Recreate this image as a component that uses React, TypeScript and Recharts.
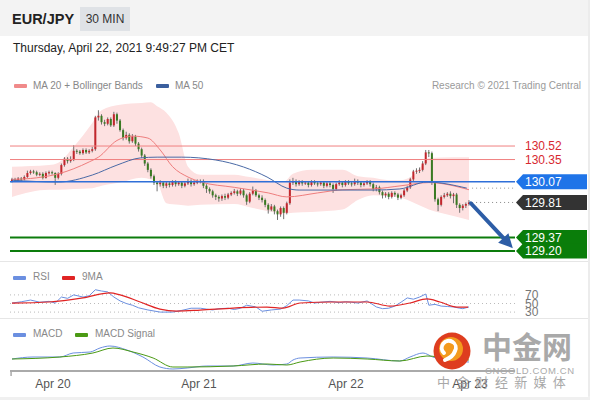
import React from 'react';
import { ComposedChart, Bar, Line, Area, XAxis, YAxis, ReferenceLine } from 'recharts';

const FONT = '"Liberation Sans", Arial, Helvetica, sans-serif';
const CJK = '"Noto Sans CJK SC", "Noto Sans", sans-serif';

// ---- price data (30 min candles) ----
const firstOpen = 130.08;
const closes = [
  130.10, 130.09, 130.11, 130.10, 130.13, 130.18, 130.20, 130.19, 130.16, 130.17,
  130.12, 130.18, 130.19, 130.18, 130.12, 130.17, 130.28, 130.36, 130.33, 130.35,
  130.46, 130.45, 130.43, 130.47, 130.44, 130.46, 130.48, 130.88, 130.90, 130.82,
  130.80, 130.86, 130.78, 130.92, 130.84, 130.72, 130.62, 130.66, 130.58, 130.64,
  130.55, 130.48, 130.40, 130.30, 130.22, 130.14, 130.06, 130.04, 130.06, 130.02,
  130.05, 130.03, 130.07, 130.04, 130.06, 130.02, 130.05, 130.08, 130.04, 130.06,
  130.07, 130.08, 130.02, 129.98, 129.95, 129.90, 129.88, 129.86, 129.89, 129.87,
  129.91, 129.93, 129.95, 129.92, 129.96, 129.90, 129.82, 129.92, 129.96, 129.90,
  129.87, 129.84, 129.78, 129.72, 129.76, 129.70, 129.66, 129.74, 129.68, 129.80,
  130.06, 130.08, 130.04, 130.07, 130.05, 130.06, 130.03, 130.07, 130.05, 130.04,
  130.06, 130.02, 130.05, 130.03, 129.98, 130.04, 130.06, 130.03, 130.07, 130.05,
  130.04, 130.08, 130.06, 130.03, 130.05, 130.07, 130.04, 129.98, 130.00, 129.94,
  129.90, 129.92, 129.88, 129.93, 129.91, 129.87, 129.90, 129.96, 130.00, 130.10,
  130.20, 130.21, 130.22, 130.30, 130.44, 130.43, 130.06, 129.85, 129.78, 129.88,
  129.90, 129.92, 129.89, 129.91, 129.78, 129.74, 129.77, 129.79, 129.81,
];
const highs = [
  130.12, 130.12, 130.13, 130.13, 130.15, 130.21, 130.22, 130.22, 130.21, 130.19,
  130.19, 130.20, 130.21, 130.21, 130.19, 130.19, 130.30, 130.38, 130.38, 130.39,
  130.53, 130.48, 130.47, 130.49, 130.49, 130.48, 130.51, 130.90, 130.97, 130.92,
  130.85, 130.88, 130.88, 130.95, 130.94, 130.86, 130.74, 130.70, 130.68, 130.67,
  130.66, 130.57, 130.50, 130.42, 130.32, 130.24, 130.16, 130.08, 130.09, 130.08,
  130.07, 130.07, 130.09, 130.09, 130.08, 130.08, 130.07, 130.11, 130.10, 130.09,
  130.10, 130.10, 130.10, 130.04, 130.00, 129.97, 129.92, 129.90, 129.91, 129.92,
  129.93, 129.95, 129.98, 129.97, 129.99, 129.98, 129.92, 129.94, 130.01, 129.98,
  129.92, 129.90, 129.86, 129.80, 129.79, 129.78, 129.72, 129.76, 129.76, 129.82,
  130.10, 130.12, 130.10, 130.09, 130.09, 130.08, 130.08, 130.09, 130.09, 130.07,
  130.08, 130.08, 130.07, 130.07, 130.05, 130.06, 130.09, 130.08, 130.09, 130.09,
  130.07, 130.11, 130.10, 130.08, 130.07, 130.09, 130.09, 130.06, 130.03, 130.02,
  129.96, 129.94, 129.94, 129.95, 129.95, 129.93, 129.92, 129.98, 130.02, 130.12,
  130.22, 130.24, 130.25, 130.33, 130.47, 130.47, 130.45, 130.08, 129.87, 129.90,
  129.93, 129.94, 129.95, 129.93, 129.93, 129.80, 129.79, 129.81, 129.84,
];
const lows = [
  130.06, 130.07, 130.07, 130.08, 130.09, 130.12, 130.16, 130.17, 130.14, 130.14,
  130.10, 130.11, 130.16, 130.16, 130.03, 130.10, 130.15, 130.26, 130.30, 130.31,
  130.33, 130.42, 130.41, 130.41, 130.42, 130.42, 130.44, 130.46, 130.84, 130.79,
  130.77, 130.78, 130.76, 130.76, 130.80, 130.70, 130.59, 130.60, 130.55, 130.56,
  130.52, 130.45, 130.37, 130.27, 130.19, 130.11, 130.03, 129.95, 130.01, 129.99,
  129.99, 130.00, 130.01, 130.01, 130.02, 129.99, 130.00, 130.03, 130.01, 130.02,
  130.04, 130.05, 129.99, 129.93, 129.92, 129.87, 129.84, 129.82, 129.83, 129.84,
  129.85, 129.89, 129.91, 129.89, 129.90, 129.87, 129.78, 129.80, 129.90, 129.88,
  129.84, 129.81, 129.75, 129.67, 129.70, 129.66, 129.59, 129.63, 129.60, 129.66,
  129.78, 130.03, 130.01, 130.02, 130.02, 130.03, 130.00, 130.01, 130.03, 130.01,
  130.02, 129.99, 130.00, 130.00, 129.93, 129.96, 130.02, 130.00, 130.01, 130.03,
  130.01, 130.02, 130.03, 130.00, 130.01, 130.03, 130.01, 129.95, 129.95, 129.91,
  129.86, 129.87, 129.85, 129.86, 129.88, 129.84, 129.85, 129.88, 129.94, 129.98,
  130.08, 130.17, 130.18, 130.20, 130.28, 130.38, 130.03, 129.82, 129.70, 129.76,
  129.86, 129.88, 129.86, 129.80, 129.74, 129.68, 129.71, 129.74, 129.77,
];

// ---- indicators [index, value] ----
const ma20Points: number[][] = [
  [0, 130.10], [8, 130.12], [15, 130.17], [25, 130.32], [28, 130.38], [34, 130.59], [39, 130.645],
  [44, 130.62], [48, 130.47], [52, 130.26], [57, 130.13], [61, 130.07], [72, 130.00], [83, 129.93],
  [89, 129.88], [99, 129.93], [107, 129.97], [117, 129.98], [126, 130.02], [135, 130.06], [148, 129.97],
];
const ma50Points: number[][] = [
  [0, 130.09], [15, 130.067], [26, 130.155], [34, 130.28], [41.5, 130.37], [47, 130.38], [55, 130.38],
  [66, 130.344], [75, 130.256], [82.6, 130.13], [89, 129.99], [93, 129.966], [117, 129.966],
  [125.6, 129.98], [134.4, 130.067], [147.3, 129.99],
];
// [index, lower band, upper band]
const bollinger: number[][] = [
  [0, 129.88, 130.26], [12, 129.97, 130.28], [15, 129.97, 130.31], [20, 129.98, 130.51],
  [26, 129.99, 130.81], [29, 130.02, 130.97], [35, 130.06, 131.04], [42, 130.12, 131.06],
  [45, 130.10, 131.07], [47, 130.06, 131.02], [50, 129.80, 130.94], [54, 129.78, 130.68],
  [57, 129.77, 130.26], [61, 129.78, 130.16], [72, 129.79, 130.16], [77, 129.75, 130.13],
  [83, 129.70, 130.09], [88, 129.67, 130.07], [91, 129.68, 130.17], [97, 129.69, 130.22],
  [107, 129.72, 130.22], [112, 129.84, 130.14], [117, 129.90, 130.12], [122, 129.89, 130.09],
  [126, 129.87, 130.09], [131, 129.79, 130.19], [135, 129.72, 130.37], [143, 129.64, 130.38],
  [148, 129.59, 130.38],
];
const rsiPoints: number[][] = [
  [0, 51], [3, 54], [6, 58], [9, 53], [12, 55], [14, 51], [16, 65], [18, 62], [20, 70], [23, 65],
  [25, 68], [27, 82], [29, 79], [31, 77], [33, 65], [35, 56], [37, 50], [39, 46], [41, 40], [44, 35],
  [48, 30], [52, 30], [55, 34], [58, 39], [61, 39], [63, 37], [65, 35], [67, 38], [70, 39], [72, 36],
  [74, 39], [76, 46], [79, 42], [81, 32], [84, 35], [87, 37], [89, 45], [91, 58], [93, 58], [96, 56],
  [98, 51], [100, 53], [103, 55], [106, 52], [108, 54], [110, 53], [112, 51], [115, 56], [118, 42],
  [120, 38], [122, 39], [124, 44], [126, 53], [128, 63], [130, 60], [132, 65], [134, 72], [135, 46],
  [137, 48], [139, 44], [141, 43], [143, 42], [145, 39], [146, 38], [148, 42],
];
const rsiMaPoints: number[][] = [
  [0, 51], [12, 53.5], [23, 63], [31.7, 74.7], [35, 70], [41.5, 53.5], [47.9, 37], [53.4, 32.4],
  [60.9, 34.7], [71.6, 39.4], [82.6, 41.8], [87.8, 39.4], [93.3, 51.2], [104, 53.5], [115, 53.5],
  [122.4, 44.1], [128.9, 51.2], [134.4, 60.6], [138.6, 53.5], [144.1, 41.8], [147.7, 41.8],
];
const macdPoints: number[][] = [
  [0, 0.015], [6.8, 0.025], [15.5, 0.025], [19.8, 0.045], [25.3, 0.05], [28.5, 0.07], [31.7, 0.08],
  [37.2, 0.06], [42.4, 0.025], [47.9, -0.025], [52.1, -0.035], [56.7, -0.03], [63.1, -0.02],
  [71.6, -0.02], [78, -0.005], [84.5, -0.015], [89, -0.01], [91, 0.01], [93.3, 0.02], [104, 0.025],
  [115, 0.02], [125.6, 0.005], [128.9, 0.025], [133.1, 0.045], [136.3, 0.025], [142, 0.005], [148, 0.0],
];
const signalPoints: number[][] = [
  [0, 0.015], [15.5, 0.025], [26.2, 0.045], [32.7, 0.07], [39.2, 0.05], [45.7, 0.02], [52.1, -0.025],
  [56.7, -0.025], [71.6, -0.02], [82.6, -0.01], [89, -0.015], [93.3, 0.0], [104, 0.02], [115, 0.015],
  [125.6, 0.005], [134.4, 0.03], [141, 0.02], [148, 0.01],
];

// ---- levels & labels ----
const resistances = [130.52, 130.35];
const pivot = 130.07;
const lastPrice = 129.81;
const ma50Last = 129.99;
const supports = [129.37, 129.2];
const rsiLevels = [70, 50, 30];
const tickValues = [-0.3, 13.27, 60.55, 108.16, 148.3];
const tickLabels = ['', 'Apr 20', 'Apr 21', 'Apr 22', 'Apr 23'];
const arrowFrom = { x: 148.6, y: 129.80 };
const arrowTo = { x: 162.2, y: 129.235 };

const X_DOMAIN: [number, number] = [-0.65, 162.9];
const MARGIN = { top: 0, right: 75, bottom: 0, left: 10 };

const candles = closes.map((c, i) => ({
  i,
  o: i === 0 ? firstOpen : closes[i - 1],
  h: highs[i],
  l: lows[i],
  c,
  range: [lows[i], highs[i]],
}));
const toLine = (pts: number[][]) => pts.map(([i, v]) => ({ i, v }));
const bandData = bollinger.map(([i, lo, hi]) => ({ i, range: [lo, hi] }));

const Candle = (props: any) => {
  const { x, y, width, height, payload } = props;
  if (!payload || x == null) return null;
  const { o, h, l, c } = payload;
  const top = Math.min(y, y + height);
  const hh = Math.abs(height);
  const k = hh / (h - l || 1);
  const cx = x + width / 2;
  const yo = top + (h - o) * k;
  const yc = top + (h - c) * k;
  const up = c >= o;
  const by = Math.min(yo, yc);
  const bh = Math.max(1, Math.abs(yc - yo));
  return (
    <g>
      <line x1={cx} x2={cx} y1={top} y2={top + hh} stroke="#707070" strokeWidth={1} />
      <rect x={cx - 1} y={by} width={2} height={bh} fill={up ? '#c3262c' : '#3a7a22'} />
    </g>
  );
};

const tagPath = (x: number, y: number, w: number, h: number) =>
  `M${x + 1},${y} L${x + 8},${y - h / 2} L${x + w},${y - h / 2} L${x + w},${y + h / 2} L${x + 8},${y + h / 2} Z`;

const makeTag = (text: string, fill: string) => (p: any) => {
  const vb = p.viewBox;
  const x = vb.x + vb.width;
  const y = vb.y;
  return (
    <g>
      <path d={tagPath(x, y, 72, 15)} fill={fill} />
      <text x={x + 10} y={y} dy="0.36em" fill="#fff" fontSize={12} fontFamily={FONT}>{text}</text>
    </g>
  );
};
const makeRedLabel = (text: string) => (p: any) => {
  const vb = p.viewBox;
  return (
    <text x={vb.x + vb.width + 10} y={vb.y} dy="0.36em" fill="#d7282f" fontSize={12} fontFamily={FONT}>{text}</text>
  );
};
const makeRsiLabel = (text: string) => (p: any) => {
  const vb = p.viewBox;
  return (
    <g>
      <rect x={vb.x + vb.width + 8} y={vb.y - 4} width={20} height={10} fill="#fff" />
      <text x={vb.x + vb.width + 10} y={vb.y} dy="0.36em" fill="#777" fontSize={12} fontFamily={FONT}>{text}</text>
    </g>
  );
};

const ArrowShape = (p: any) => {
  const { x1, y1, x2, y2 } = p;
  if (x1 == null) return null;
  const dx = x2 - x1, dy = y2 - y1;
  const len = Math.sqrt(dx * dx + dy * dy);
  const ux = dx / len, uy = dy / len;
  const hl = 14, hw = 7;
  const bx = x2 - ux * hl, by = y2 - uy * hl;
  return (
    <g>
      <line x1={x1} y1={y1} x2={bx} y2={by} stroke="#2d5da6" strokeWidth={4} strokeLinecap="round" />
      <polygon
        points={`${x2},${y2} ${bx - uy * hw},${by + ux * hw} ${bx + uy * hw},${by - ux * hw}`}
        fill="#2d5da6"
      />
    </g>
  );
};

const DateTick = (p: any) => {
  const { x, y, payload } = p;
  const idx = tickValues.indexOf(payload.value);
  const label = tickLabels[idx];
  if (!label) return <line x1={x} x2={x} y1={y - 8} y2={y - 3} stroke="#aaa" strokeWidth={1.5} />;
  return (
    <text x={x} y={y} dy="0.71em" textAnchor="middle" fontSize={12} fill="#555" fontFamily={FONT}>{label}</text>
  );
};

const Swatch = ({ color, left, top }: { color: string; left: number; top: number }) => (
  <div style={{ position: 'absolute', left, top, width: 13, height: 4, background: color, borderRadius: 1 }} />
);
const LegendText = ({ text, left, top }: { text: string; left: number; top: number }) => (
  <div style={{ position: 'absolute', left, top, fontSize: 10, color: '#888', lineHeight: '12px', whiteSpace: 'nowrap' }}>{text}</div>
);

export default function App() {
  return (
    <div style={{ position: 'absolute', left: 0, top: 0, width: 590, height: 400, background: '#fff', fontFamily: FONT, overflow: 'hidden' }}>
      {/* header */}
      <div style={{ position: 'absolute', left: 0, top: 0, width: 588, height: 36, background: '#f3f3f3' }} />
      <div style={{ position: 'absolute', left: 12, top: 10, fontSize: 14.5, fontWeight: 'bold', color: '#222', lineHeight: '18px' }}>EUR/JPY</div>
      <div style={{ position: 'absolute', left: 80, top: 7, width: 50, height: 24, background: '#dfe2e6', color: '#333', fontSize: 12, lineHeight: '24px', textAlign: 'center' }}>30 MIN</div>
      <div style={{ position: 'absolute', left: 13, top: 41, fontSize: 12, color: '#222', lineHeight: '14px', whiteSpace: 'nowrap' }}>Thursday, April 22, 2021 9:49:27 PM CET</div>

      {/* borders */}
      <div style={{ position: 'absolute', left: 588, top: 0, width: 2, height: 400, background: '#ececec' }} />
      <div style={{ position: 'absolute', left: 0, top: 396, width: 590, height: 4, background: '#f0f0f0' }} />

      {/* main legend */}
      <Swatch color="#f08a8a" left={14} top={84} />
      <LegendText text="MA 20 + Bollinger Bands" left={33} top={80} />
      <Swatch color="#3b5f9e" left={156} top={84} />
      <LegendText text="MA 50" left={175} top={80} />
      <div style={{ position: 'absolute', right: 9, top: 80, fontSize: 10, color: '#9a9a9a', lineHeight: '12px', whiteSpace: 'nowrap' }}>Research © 2021 Trading Central</div>

      {/* main price chart */}
      <div style={{ position: 'absolute', left: 0, top: 100 }}>
        <ComposedChart width={590} height={160} data={candles} margin={MARGIN}>
          <XAxis type="number" dataKey="i" domain={X_DOMAIN} hide allowDataOverflow />
          <YAxis type="number" domain={[129.086, 131.099]} hide allowDataOverflow />
          <Area data={bandData} dataKey="range" type="monotone" stroke="none" strokeWidth={0} fill="#fde1e1" fillOpacity={1} isAnimationActive={false} />
          <ReferenceLine y={resistances[0]} stroke="#f08080" strokeWidth={1} label={makeRedLabel(resistances[0].toFixed(2))} />
          <ReferenceLine y={resistances[1]} stroke="#f08080" strokeWidth={1} label={makeRedLabel(resistances[1].toFixed(2))} />
          <Line data={toLine(ma20Points)} dataKey="v" type="monotone" stroke="#ee7d7d" strokeWidth={1} dot={false} isAnimationActive={false} />
          <Line data={toLine(ma50Points)} dataKey="v" type="monotone" stroke="#4a6aa6" strokeWidth={1} dot={false} isAnimationActive={false} />
          <ReferenceLine y={pivot} stroke="#2f6fd8" strokeWidth={1.5} label={makeTag(pivot.toFixed(2), '#1f74e8')} />
          <ReferenceLine segment={[{ x: 149, y: ma50Last }, { x: X_DOMAIN[1], y: ma50Last }]} stroke="#999" strokeDasharray="1 3" />
          <ReferenceLine segment={[{ x: 149, y: lastPrice }, { x: X_DOMAIN[1], y: lastPrice }]} stroke="#888" strokeDasharray="1 3" label={makeTag(lastPrice.toFixed(2), '#333333')} />
          <ReferenceLine y={supports[0]} stroke="#0c7c0c" strokeWidth={2} label={makeTag(supports[0].toFixed(2), '#0a7d0a')} />
          <ReferenceLine y={supports[1]} stroke="#0c7c0c" strokeWidth={2} label={makeTag(supports[1].toFixed(2), '#0a7d0a')} />
          <Bar dataKey="range" barSize={3} shape={Candle} isAnimationActive={false} />
          <ReferenceLine segment={[arrowFrom, arrowTo]} shape={ArrowShape} />
        </ComposedChart>
      </div>

      {/* separators */}
      <div style={{ position: 'absolute', left: 0, top: 261, width: 588, height: 1, background: '#e6e6e6' }} />

      {/* RSI legend */}
      <Swatch color="#6b8fe0" left={13} top={276} />
      <LegendText text="RSI" left={33} top={271} />
      <Swatch color="#e02424" left={62} top={276} />
      <LegendText text="9MA" left={82} top={271} />

      {/* RSI chart */}
      <div style={{ position: 'absolute', left: 0, top: 282 }}>
        <ComposedChart width={590} height={43} margin={MARGIN}>
          <XAxis type="number" dataKey="i" domain={X_DOMAIN} hide allowDataOverflow />
          <YAxis type="number" domain={[0, 100]} hide allowDataOverflow />
          {rsiLevels.map((lv) => (
            <ReferenceLine key={lv} y={lv} stroke="#bbb" strokeDasharray="1 3" label={makeRsiLabel(String(lv))} />
          ))}
          <Line data={toLine(rsiPoints)} dataKey="v" type="linear" stroke="#6b8fe0" strokeWidth={1} dot={false} isAnimationActive={false} />
          <Line data={toLine(rsiMaPoints)} dataKey="v" type="monotone" stroke="#e02424" strokeWidth={1.2} dot={false} isAnimationActive={false} />
        </ComposedChart>
      </div>

      {/* MACD panel */}
      <div style={{ position: 'absolute', left: 0, top: 318, width: 588, height: 78, background: '#fff', borderTop: '1px solid #e6e6e6' }} />
      <Swatch color="#6b8fe0" left={13} top={333} />
      <LegendText text="MACD" left={33} top={328} />
      <Swatch color="#4b9a14" left={75} top={333} />
      <LegendText text="MACD Signal" left={95} top={328} />
      <div style={{ position: 'absolute', left: 0, top: 340 }}>
        <ComposedChart width={590} height={56} margin={MARGIN}>
          <XAxis
            type="number"
            dataKey="i"
            domain={X_DOMAIN}
            allowDataOverflow
            ticks={tickValues}
            interval={0}
            height={25}
            tickLine={false}
            axisLine={{ stroke: '#aaa', strokeWidth: 2 }}
            tick={DateTick}
          />
          <YAxis type="number" domain={[-0.045, 0.11]} hide allowDataOverflow />
          <Line data={toLine(macdPoints)} dataKey="v" type="monotone" stroke="#6b8fe0" strokeWidth={1} dot={false} isAnimationActive={false} />
          <Line data={toLine(signalPoints)} dataKey="v" type="monotone" stroke="#4b9a14" strokeWidth={1} dot={false} isAnimationActive={false} />
        </ComposedChart>
      </div>

      {/* watermark */}
      <svg style={{ position: 'absolute', left: 430, top: 329 }} width={46} height={46}>
        <circle cx={22} cy={22} r={18.5} fill="#de3d1f" />
        <circle cx={21} cy={20} r={12} fill="#f39a1e" />
        <path d="M14,24 a7,7 0 1,1 11,-2 q-2,6 -10,9" fill="none" stroke="#fff" strokeWidth={4} strokeLinecap="round" />
        <circle cx={21} cy={18} r={3} fill="#f39a1e" />
      </svg>
      <div style={{ position: 'absolute', left: 482, top: 326, fontFamily: CJK, fontSize: 30, fontWeight: 'bold', color: '#a9a9a9', lineHeight: '38px', whiteSpace: 'nowrap' }}>中金网</div>
      <div style={{ position: 'absolute', left: 485, top: 366, fontSize: 9.5, color: '#aaa', letterSpacing: 0.6, lineHeight: '10px', whiteSpace: 'nowrap' }}>CNGOLD.COM.CN</div>
      <div style={{ position: 'absolute', left: 437, top: 374, fontFamily: CJK, fontSize: 13, color: '#9a9a9a', letterSpacing: 1.7, lineHeight: '16px', whiteSpace: 'nowrap', opacity: 0.85 }}>中 金 财 经 新 媒 体</div>
    </div>
  );
}
